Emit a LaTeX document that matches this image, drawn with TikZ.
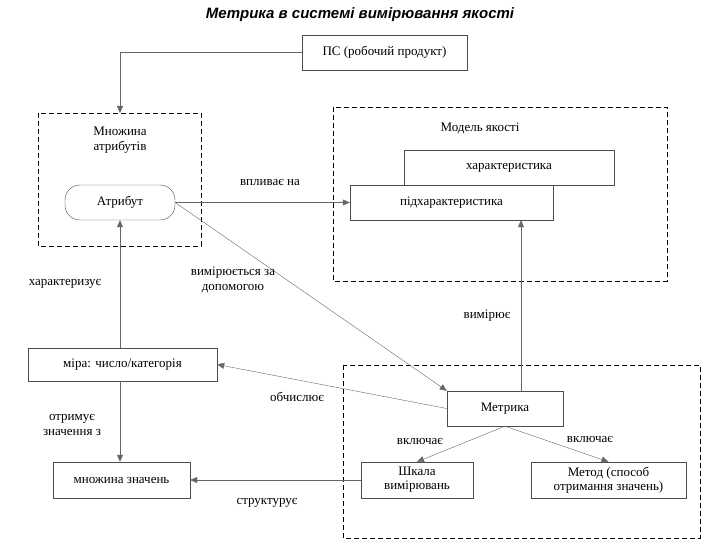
\documentclass[tikz,border=0pt]{standalone}
\usepackage{fontspec}
\setmainfont{Liberation Serif}
\newfontfamily\titlefont{Liberation Sans}
\usetikzlibrary{arrows.meta}
\begin{document}
\begin{tikzpicture}[x=1pt,y=-1pt,
  box/.style={draw=black!70,fill=white,font=\fontsize{13}{14}\selectfont,align=center,inner sep=0pt},
  grp/.style={draw,dashed,line width=0.9pt,dash pattern=on 5pt off 3pt},
  arr/.style={-{Triangle[length=7pt,width=6pt]},draw=black!60},
  lbl/.style={font=\fontsize{13}{15}\selectfont,align=center}]
\useasboundingbox (0,0) rectangle (720,540);
\node[font=\titlefont\bfseries\itshape\fontsize{15}{17}\selectfont] (title) at (360,15) {Метрика в системі вимірювання якості};
\node[box,minimum width=165pt,minimum height=35pt] (ps) at (384.5,52.5) {ПС (робочий продукт)};
\draw[grp] (38,113) rectangle (201,246);
\coordinate (g1top) at (120,113);
\node[lbl] (g1l) at (120,140) {Множина\\атрибутів};
\node[box,rounded corners=15pt,minimum width=110pt,minimum height=35pt] (attr) at (120,202.5) {Атрибут};
\draw[grp] (333,107) rectangle (667,281);
\node[lbl] (g2l) at (480,128) {Модель якості};
\node[box,minimum width=210pt,minimum height=35pt] (char) at (509,167.5) {характеристика};
\node[box,minimum width=203pt,minimum height=35pt] (sub) at (451.5,202.5) {підхарактеристика};
\draw[grp] (343,365) rectangle (700,538);
\node[box,minimum width=116pt,minimum height=35pt] (metr) at (505,408.5) {Метрика};
\node[box,minimum width=189pt,minimum height=33pt] (mira) at (122.5,364.5) {міра: число/категорія};
\node[box,minimum width=137pt,minimum height=36pt] (mnoz) at (121.5,480) {множина значень};
\node[box,minimum width=112pt,minimum height=36pt] (shk) at (417,480) {Шкала\\вимірювань};
\node[box,minimum width=155pt,minimum height=36pt] (met) at (608.5,480) {Метод (способ\\отримання значень)};
\draw[arr] (ps.west) -| (g1top);
\draw[arr] (attr.east) -- (sub.west |- attr.east);
\node[lbl] (l1) at (270,183) {впливає на};
\draw[arr] (attr.east) -- (metr.north west);
\node[lbl] (l2) at (233,280) {вимірюється за\\допомогою};
\draw[arr] (metr.north -| 521,0) -- (sub.south -| 521,0);
\node[lbl] (l3) at (487,316) {вимірює};
\draw[arr] (metr.west) -- (mira.east);
\node[lbl] (l4) at (297,397) {обчислює};
\draw[arr] (mira.north -| 120,0) -- (attr.south -| 120,0);
\node[lbl] (l5) at (65,284) {характеризує};
\draw[arr] (mira.south -| 120,0) -- (mnoz.north -| 120,0);
\node[lbl] (l6) at (72,425) {отримує\\значення з};
\draw[arr] (metr.south) -- (shk.north);
\draw[arr] (metr.south) -- (met.north);
\node[lbl] (l7) at (420,441) {включає};
\node[lbl] (l8) at (590,439) {включає};
\draw[arr] (shk.west) -- (mnoz.east);
\node[lbl] (l9) at (267,503) {структурує};
\end{tikzpicture}
\end{document}
